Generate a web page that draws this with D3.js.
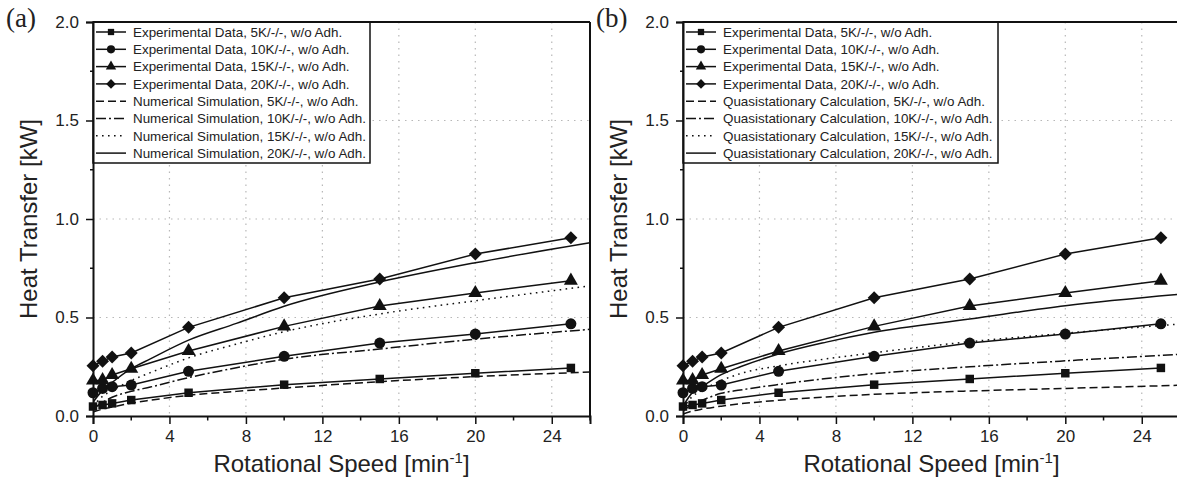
<!DOCTYPE html>
<html>
<head>
<meta charset="utf-8">
<script src="https://cdn.jsdelivr.net/npm/d3@7"></script>
<style>
  body { margin: 0; background: #fff; }
  svg { display: block; }
</style>
</head>
<body>
<div id="chart"></div>
<script>
const W = 1177, H = 483
const sans = "'Liberation Sans', Arial, sans-serif"
const serif = "'Liberation Serif', 'Times New Roman', serif"

// ---- data ----
const expSpeed = [0, 0.5, 1, 2, 5, 10, 15, 20, 25]
const exp5K  = [0.048, 0.056, 0.064, 0.081, 0.118, 0.159, 0.188, 0.217, 0.244]
const exp10K = [0.118, 0.140, 0.149, 0.157, 0.227, 0.303, 0.370, 0.416, 0.468]
const exp15K = [0.180, 0.182, 0.208, 0.240, 0.330, 0.455, 0.558, 0.624, 0.687]
const exp20K = [0.255, 0.278, 0.300, 0.320, 0.450, 0.600, 0.695, 0.822, 0.905]

const curveSpeed = [0, 0.5, 1, 2, 3, 5, 7.5, 10, 15, 20, 26]
const sim5K  = [0.020, 0.035, 0.045, 0.065, 0.080, 0.105, 0.125, 0.142, 0.174, 0.200, 0.223]
const sim10K = [0.035, 0.070, 0.095, 0.125, 0.147, 0.195, 0.245, 0.288, 0.340, 0.390, 0.440]
const sim15K = [0.050, 0.100, 0.130, 0.180, 0.220, 0.295, 0.365, 0.428, 0.518, 0.585, 0.660]
const sim20K = [0.070, 0.130, 0.170, 0.240, 0.290, 0.385, 0.470, 0.557, 0.680, 0.778, 0.880]

const quasi5K  = [0.010, 0.025, 0.035, 0.050, 0.062, 0.080, 0.097, 0.110, 0.127, 0.140, 0.156]
const quasi10K = [0.025, 0.060, 0.080, 0.115, 0.132, 0.160, 0.190, 0.215, 0.250, 0.280, 0.313]
const quasi15K = [0.040, 0.100, 0.130, 0.180, 0.215, 0.255, 0.290, 0.321, 0.377, 0.420, 0.467]
const quasi20K = [0.050, 0.120, 0.150, 0.210, 0.250, 0.315, 0.375, 0.425, 0.492, 0.560, 0.618]

const tempLabels = ["5K/-/-", "10K/-/-", "15K/-/-", "20K/-/-"]
const xTicks = [0, 4, 8, 12, 16, 20, 24]
const xMinor = [2, 6, 10, 14, 18, 22, 26]
const yTicks = [0, 0.5, 1.0, 1.5, 2.0]
const yMinor = [0.25, 0.75, 1.25, 1.75]

const panels = [
  {tag: "(a)", left: 93, legendW: 277, model: "Numerical Simulation",
   curves: [sim5K, sim10K, sim15K, sim20K]},
  {tag: "(b)", left: 683, legendW: 315, model: "Quasistationary Calculation",
   curves: [quasi5K, quasi10K, quasi15K, quasi20K]}
]

const experiments = [exp5K, exp10K, exp15K, exp20K]
const dashes = ["8,4", "10,3,2,3", "1.6,4.4", null]
const symbols = [
  {type: d3.symbolSquare, size: 72, rot: 0},
  {type: d3.symbolCircle, size: 95, rot: 0},
  {type: d3.symbolTriangle, size: 85, rot: 0},
  {type: d3.symbolSquare, size: 84, rot: 45}
]

const plotTop = 22, plotBottom = 416, plotW = 497

const svg = d3.select("#chart").append("svg")
  .attr("width", W).attr("height", H)
  .style("font-family", sans)

panels.forEach((p, pi) => {
  const xScale = d3.scaleLinear().domain([0, 26]).range([p.left, p.left + plotW])
  const yScale = d3.scaleLinear().domain([0, 2]).range([plotBottom, plotTop])
  const g = svg.append("g")

  const clipId = "clip" + pi
  g.append("clipPath").attr("id", clipId).append("rect")
    .attr("x", p.left).attr("y", plotTop).attr("width", plotW).attr("height", plotBottom - plotTop)

  // grid
  g.selectAll(".vgrid").data(xTicks.slice(1)).enter().append("line")
    .attr("x1", d => xScale(d)).attr("x2", d => xScale(d))
    .attr("y1", plotTop).attr("y2", plotBottom)
    .attr("stroke", "#b8b8b8").attr("stroke-width", 1.2).attr("stroke-dasharray", "1.5,5")
  g.selectAll(".hgrid").data([0.5, 1.0, 1.5]).enter().append("line")
    .attr("x1", p.left).attr("x2", p.left + plotW)
    .attr("y1", d => yScale(d)).attr("y2", d => yScale(d))
    .attr("stroke", "#b8b8b8").attr("stroke-width", 1.2).attr("stroke-dasharray", "1.5,5")

  // model curves
  const curveLine = d3.line()
    .x((d, i) => xScale(curveSpeed[i]))
    .y(d => yScale(d))
    .curve(d3.curveMonotoneX)
  const plot = g.append("g").attr("clip-path", `url(#${clipId})`)
  p.curves.forEach((c, i) => {
    plot.append("path").attr("d", curveLine(c))
      .attr("fill", "none").attr("stroke", "#111").attr("stroke-width", 1.5)
      .attr("stroke-dasharray", dashes[i])
  })

  // experimental data
  const expLine = d3.line().x((d, i) => xScale(expSpeed[i])).y(d => yScale(d))
  experiments.forEach((e, i) => {
    plot.append("path").attr("d", expLine(e))
      .attr("fill", "none").attr("stroke", "#111").attr("stroke-width", 1.5)
    const sym = d3.symbol().type(symbols[i].type).size(symbols[i].size)
    g.selectAll(null).data(e).enter().append("path")
      .attr("d", sym)
      .attr("transform", (d, j) => `translate(${xScale(expSpeed[j])},${yScale(d)}) rotate(${symbols[i].rot})`)
      .attr("fill", "#111")
  })

  // legend
  const lg = g.append("g")
  const rowY = i => 32 + i * 17.3
  lg.append("rect").attr("x", p.left).attr("y", plotTop)
    .attr("width", p.legendW).attr("height", 141)
    .attr("fill", "#fff").attr("stroke", "#111").attr("stroke-width", 1.5)
  const rows = tempLabels.map((t, i) => ({label: `Experimental Data, ${t}, w/o Adh.`, exp: true, i}))
    .concat(tempLabels.map((t, i) => ({label: `${p.model}, ${t}, w/o Adh.`, exp: false, i})))
  rows.forEach((r, k) => {
    const y = rowY(k)
    lg.append("line").attr("x1", p.left + 3).attr("x2", p.left + 33)
      .attr("y1", y).attr("y2", y)
      .attr("stroke", "#111").attr("stroke-width", 1.5)
      .attr("stroke-dasharray", r.exp ? null : dashes[r.i])
    if (r.exp) {
      const s = symbols[r.i]
      lg.append("path").attr("d", d3.symbol().type(s.type).size(s.size * 0.55))
        .attr("transform", `translate(${p.left + 18},${y}) rotate(${s.rot})`)
        .attr("fill", "#111")
    }
    lg.append("text").attr("x", p.left + 40).attr("y", y).attr("dy", "0.36em")
      .attr("font-size", 13.4).attr("fill", "#222").text(r.label)
  })

  // axes
  const xAxis = d3.axisBottom(xScale).tickValues(xTicks).tickSize(8).tickPadding(6)
    .tickFormat(d3.format("d"))
  const xa = g.append("g").attr("transform", `translate(0,${plotBottom})`).call(xAxis)
  xa.append("g").selectAll("line").data(xMinor).enter().append("line")
    .attr("x1", d => xScale(d)).attr("x2", d => xScale(d)).attr("y1", 0).attr("y2", 4.5)
    .attr("stroke", "#111").attr("stroke-width", 1.5)

  const yAxis = d3.axisLeft(yScale).tickValues(yTicks).tickSize(7).tickPadding(7)
    .tickFormat(d3.format(".1f"))
  const ya = g.append("g").attr("transform", `translate(${p.left},0)`).call(yAxis)
  ya.append("g").selectAll("line").data(yMinor).enter().append("line")
    .attr("x1", -3).attr("x2", 0).attr("y1", d => yScale(d)).attr("y2", d => yScale(d))
    .attr("stroke", "#111").attr("stroke-width", 1.5)

  ;[xa, ya].forEach(a => {
    a.attr("font-family", sans).attr("font-size", 17)
    a.selectAll("text").attr("fill", "#222")
    a.select(".domain").attr("stroke", "#111").attr("stroke-width", 2)
    a.selectAll(".tick line").attr("stroke", "#111").attr("stroke-width", 1.5)
  })

  // frame top and right
  g.append("line").attr("x1", p.left).attr("x2", p.left + plotW)
    .attr("y1", plotTop).attr("y2", plotTop).attr("stroke", "#111").attr("stroke-width", 2)
  g.append("line").attr("x1", p.left + plotW).attr("x2", p.left + plotW)
    .attr("y1", plotTop).attr("y2", plotBottom).attr("stroke", "#111").attr("stroke-width", 2)

  // titles
  g.append("text").attr("x", (p.left + p.left + plotW) / 2).attr("y", 472)
    .attr("text-anchor", "middle").attr("font-size", 24).attr("fill", "#222")
    .call(t => {
      t.append("tspan").text("Rotational Speed [min")
      t.append("tspan").attr("font-size", 15).attr("dy", -9).text("-1")
      t.append("tspan").attr("dy", 9).text("]")
    })
  g.append("text")
    .attr("transform", `translate(${p.left - 56},${(plotTop + plotBottom) / 2}) rotate(-90)`)
    .attr("text-anchor", "middle").attr("font-size", 24).attr("fill", "#222")
    .text("Heat Transfer [kW]")

  g.append("text").attr("x", p.left - 87).attr("y", 27)
    .style("font-family", serif)
    .attr("font-size", 27).attr("fill", "#222").text(p.tag)
})
</script>
</body>
</html>
